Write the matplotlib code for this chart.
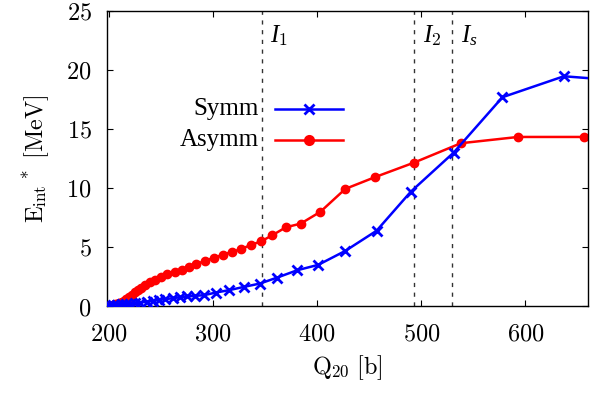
"""Internal excitation energy along the fission path: symmetric vs asymmetric."""
import matplotlib
matplotlib.use("Agg")
import matplotlib.pyplot as plt

# Symmetric path (crosses)
symm_q = [197, 200, 204, 208, 212, 216, 220, 225, 230, 236, 242, 248, 254, 261,
          268, 275, 283, 291.5, 302.6, 315.3, 329.7, 345, 361.7, 381, 401, 427,
          457, 490, 531, 578, 637, 690]
symm_e = [-0.15, 0.1, 0.12, 0.15, 0.18, 0.21, 0.24, 0.28, 0.33, 0.4, 0.47, 0.55,
          0.62, 0.7, 0.78, 0.85, 0.9, 0.96, 1.18, 1.38, 1.66, 1.94, 2.45, 3.07,
          3.52, 4.7, 6.4, 9.71, 13.0, 17.69, 19.46, 19.1]

# Asymmetric path (dots)
asym_q = [198, 200, 202, 204, 206, 208, 210, 212, 214, 216, 219, 222, 225, 228,
          231, 235, 239, 244, 250, 256, 263, 270, 277, 284, 292, 301, 309, 318,
          327, 336, 346, 357, 370, 384, 403, 427, 456, 493, 538, 593, 656]
asym_e = [0.0, 0.04, 0.08, 0.13, 0.18, 0.24, 0.31, 0.4, 0.5, 0.62, 0.8, 1.0, 1.2,
          1.4, 1.55, 1.78, 2.03, 2.2, 2.48, 2.76, 2.93, 3.07, 3.33, 3.58, 3.86,
          4.12, 4.37, 4.62, 4.85, 5.2, 5.5, 6.03, 6.7, 7.0, 8.0, 9.94, 10.95,
          12.16, 13.8, 14.33, 14.33]

# Characteristic deformations
marks_q = [346.6, 493.2, 529.8]
marks_lbl = ["1", "2", "s"]

BLUE, RED = "#0000ff", "#ff0000"

plt.rcParams.update({
    "font.family": ["cmr10", "DejaVu Serif"],
    "axes.formatter.use_mathtext": True,
    "mathtext.fontset": "custom",
    "mathtext.rm": "cmr10",
    "mathtext.it": "Liberation Serif:italic",
    "font.size": 17,
})

fig = plt.figure(figsize=(6.02, 3.94), dpi=100)
ax = fig.add_axes([0.1777, 0.2221, 0.7996, 0.7507])

for q, s in zip(marks_q, marks_lbl):
    ax.axvline(q, color="#333333", lw=1.0, ls=(0, (3, 4)), zorder=1)
    ax.text(q + 8.5, 22.9, r"$\mathit{I}_{\mathit{%s}}$" % s, fontsize=18,
            va="center", ha="left")

ax.plot(symm_q, symm_e, color=BLUE, lw=1.8, marker="x", ms=6.5, mew=2, zorder=3)
ax.plot(asym_q, asym_e, color=RED, lw=1.8, marker="o", ms=6, zorder=2)

# key drawn in axes fraction with right-aligned labels
for y, name, col, mk, ms in ((0.668, "Symm", BLUE, "x", 6.5),
                             (0.563, "Asymm", RED, "o", 6)):
    ax.text(0.316, y, name, transform=ax.transAxes, ha="right", va="center",
            fontsize=18, family="Liberation Serif")
    ax.plot([0.349, 0.490], [y, y], transform=ax.transAxes, color=col, lw=1.8)
    ax.plot([0.4195], [y], transform=ax.transAxes, color=col, marker=mk,
            ms=ms, mew=2)

ax.set_xlim(198, 660.5)
ax.set_ylim(0, 25)
ax.set_xticks([200, 300, 400, 500, 600])
ax.set_yticks([0, 5, 10, 15, 20, 25])
ax.tick_params(direction="in", length=4.5, width=0.8, top=True, right=True,
               labelsize=17.5)
ax.tick_params(axis="x", pad=12)
ax.tick_params(axis="y", pad=11)
for sp in ax.spines.values():
    sp.set_linewidth(1.0)

ax.set_xlabel(r"Q$_{20}$ [b]", fontsize=17.5, labelpad=6)
ax.set_ylabel(r"E$_{\rm int}$$^{\ *}$ [MeV]", fontsize=17.5, labelpad=10)

fig.savefig("out.png", dpi=100)
